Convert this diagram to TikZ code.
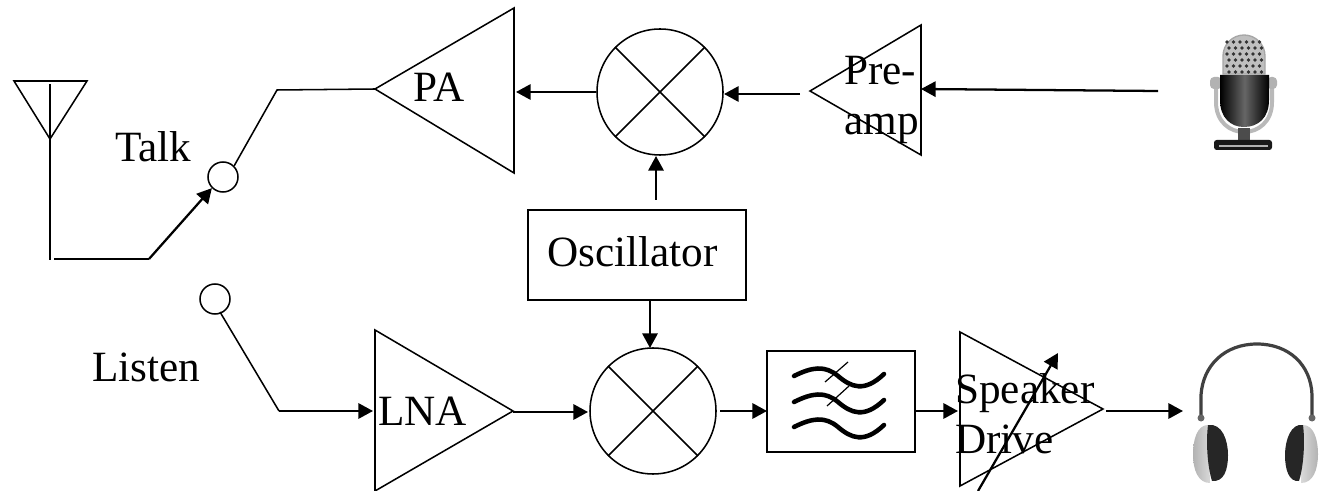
\documentclass[tikz,border=0pt]{standalone}
\usepackage{fontspec}
\setmainfont{Liberation Serif}
\usetikzlibrary{arrows.meta}

\tikzset{
  wire/.style={line width=1.15pt},
  feed/.style={line width=1.7pt,-{Triangle[length=11pt,width=11.5pt]}},
  mixer/.style={draw,circle,line width=1.15pt,minimum size=94.5pt,inner sep=0pt},
  pole/.style={draw,circle,line width=1.15pt,minimum size=22.5pt,inner sep=0pt},
  blockbox/.style={draw,rectangle,line width=1pt,inner sep=0pt},
  lbl/.style={anchor=base west,inner sep=0pt,align=left,font=\fontsize{32.4}{38}\selectfont},
  ripple/.style={line width=3.4pt,line cap=round},
}
\newcommand{\mixercross}[1]{\draw[wire] (#1.45) -- (#1.225) (#1.135) -- (#1.315);}

\begin{document}
\begin{tikzpicture}[x=0.75pt,y=0.75pt,yscale=-1,xscale=1]
\useasboundingbox (0,0) rectangle (1327,491);

% Blocks
\node[mixer] (mixtop) at (660,92) {};
\node[mixer] (mixbot) at (653,411) {};
\mixercross{mixtop}
\mixercross{mixbot}
\node[blockbox,minimum width=163.5pt,minimum height=67.5pt] (osc) at (637,255) {};
\node[blockbox,minimum width=111pt,minimum height=75.75pt] (filt) at (841,401.5) {};
\node[pole] (talk) at (223,177) {};
\node[pole] (listen) at (215,299) {};

% Triangles
\coordinate (patip) at (375,89);
\draw[wire] (patip) -- (514,8) -- (514,173) -- cycle;
\coordinate (pretip) at (810,91);
\draw[wire] (pretip) -- (921,25) -- (921,155) -- cycle;
\coordinate (lnatip) at (513,411);
\draw[wire] (lnatip) -- (375,330) -- (375,491) -- cycle;
\coordinate (spktip) at (1103,409);
\draw[wire] (spktip) -- (960,332) -- (960,486) -- cycle;

% Antenna
\coordinate (antfoot) at (50,139);
\draw[wire] (14,81) -- (87,81) -- (antfoot) -- cycle;
\coordinate (anttop) at (50,84);
\coordinate (antbot) at (50,260);
\coordinate (antleg) at (54,259);
\coordinate (swpivot) at (149,259);
\coordinate (txbend) at (277,90);
\coordinate (rxbend) at (279,411);
\coordinate (rxpole) at (220,312);
\coordinate (paback) at (516,92);
\coordinate (preback) at (921,89);
\coordinate (micout) at (1158,91);
\coordinate (preout) at (800,94);
\coordinate (mixin) at (724,94);
\coordinate (lnain) at (373,411);
\coordinate (lnaout) at (513,412);
\coordinate (mixbotin) at (588,412);
\coordinate (filtin) at (720,411);
\coordinate (filtarr) at (767,411);
\coordinate (filtout) at (916,411);
\coordinate (spkin) at (958,411);
\coordinate (spkout) at (1106,411);
\coordinate (phones) at (1183,411);
\coordinate (gainlo) at (978,491);
\coordinate (gainhi) at (1058,353);
\coordinate (oscup) at (656,200);
\coordinate (mixtopdn) at (656,156);
\coordinate (oscdn) at (650,300);
\coordinate (mixbotup) at (650,348);

% Connection
\draw[wire] (anttop) -- (antbot);
\draw[line width=1.7pt] (antleg) -- (swpivot);
\draw[feed] (swpivot) -- (talk.south west);
\draw[wire] (talk.north east) -- (txbend) -- (patip);
\draw[wire] (rxpole) -- (rxbend);
\draw[feed] (rxbend) -- (lnain);
\draw[feed] (lnaout) -- (mixbotin);
\draw[feed] (filtin) -- (filtarr);
\draw[feed] (filtout) -- (spkin);
\draw[feed] (spkout) -- (phones);
\draw[feed] (mixtop.west) -- (paback);
\draw[feed] (preout) -- (mixin);
\draw[feed] (micout) -- (preback);
\draw[feed] (oscup) -- (mixtopdn);
\draw[feed] (oscdn) -- (mixbotup);
\draw[feed] (gainlo) -- (gainhi);

% Filter symbol
\foreach \yy in {0,26,51}{
  \draw[ripple] (794,376+\yy) .. controls (812,367+\yy) and (825,365+\yy) .. (838,376+\yy)
    .. controls (851,387+\yy) and (864,393+\yy) .. (884,374+\yy);
}
\draw[line width=0.9pt] (825,382) -- (848,362);
\draw[line width=0.9pt] (827,406) -- (849,386);

% Text Node
\node[lbl] (palbl) at (413,102) {PA};
\node[lbl] (lnalbl) at (378,425) {LNA};
\node[lbl] (talklbl) at (115,162) {Talk};
\node[lbl] (listenlbl) at (92,381) {Listen};
\node[lbl] (osclbl) at (547,267) {Oscillator};
\node[lbl,anchor=north west] (prelbl) at (844,55.5) {Pre-\\amp};
\node[lbl,anchor=north west] (spklbl) at (955,373) {Speaker\\Drive};

% Microphone
\draw[gray!70,line width=1pt,fill=gray!50] (1223,74) -- (1223,56) arc[start angle=180,end angle=360,radius=21] -- (1265,74) -- cycle;
\foreach \ii in {0,...,5}{
  \foreach \jj in {0,...,5}{
    \fill[black!80] ({1227+\ii*6.5+mod(\jj,2)*2},{42+\jj*6}) circle (1.9);
  }
}
\draw[gray!55,line width=3pt] (1216,85) -- (1216,102) .. controls (1216,122) and (1230,132) .. (1244,132)
  .. controls (1258,132) and (1272,122) .. (1272,102) -- (1272,85);
\fill[gray!60,rounded corners=3pt] (1210,77) rectangle (1222,89);
\fill[gray!60,rounded corners=3pt] (1267,77) rectangle (1277,89);
\shade[left color=black,right color=black,middle color=black!60] (1220,75) -- (1269,75) -- (1269,100) .. controls (1269,118) and (1258,127) .. (1244,127)
  .. controls (1231,127) and (1220,118) .. (1220,100) -- cycle;
\fill[black!70] (1238,128) rectangle (1250,141);
\fill[black!90,rounded corners=2pt] (1214,140) rectangle (1272,150);
\fill[gray!60] (1219,145) rectangle (1268,147);

% Headphones
\draw[black!75,line width=2.4pt] (1201,418) -- (1201,395) .. controls (1203,365) and (1225,344) .. (1257,344)
  .. controls (1289,344) and (1311,365) .. (1312,395) -- (1312,418);
\fill[black!60] (1201,418) circle (3.5);
\fill[black!60] (1312,418) circle (3.5);
\shade[left color=gray!60,right color=white!85!black] (1208,425) .. controls (1197,425) and (1193,440) .. (1193,454)
  .. controls (1193,470) and (1198,483) .. (1210,483) -- cycle;
\shade[right color=gray!60,left color=white!85!black] (1303,425) .. controls (1314,425) and (1318,440) .. (1318,454)
  .. controls (1318,470) and (1313,483) .. (1301,483) -- cycle;
\fill[black!85] (1208,425) .. controls (1222,423) and (1228,440) .. (1228,455)
  .. controls (1228,470) and (1224,482) .. (1212,481) .. controls (1207,465) and (1206,440) .. (1208,425) -- cycle;
\fill[black!85] (1303,425) .. controls (1291,423) and (1285,440) .. (1285,455)
  .. controls (1285,470) and (1289,482) .. (1299,481) .. controls (1304,465) and (1305,440) .. (1303,425) -- cycle;

\end{tikzpicture}
\end{document}
